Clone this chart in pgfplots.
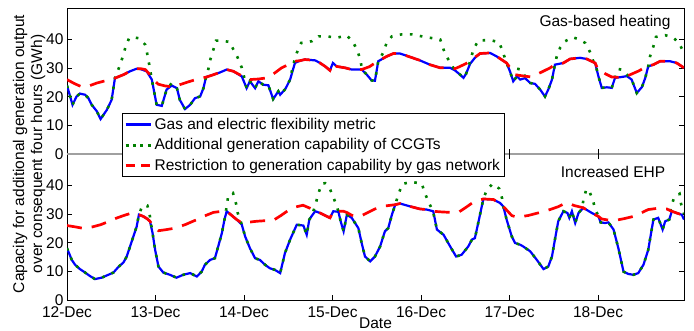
\documentclass[border=0pt]{standalone}
\usepackage{pgfplots}
\pgfplotsset{compat=1.18}
\usepackage{pgfplotstable}
\usepackage{fontspec}
\setmainfont{Liberation Sans}
\definecolor{mblue}{RGB}{0,0,255}
\definecolor{mgreen}{RGB}{0,128,0}
\definecolor{mred}{RGB}{255,0,0}
\definecolor{mgray}{RGB}{160,160,160}

% ---------- Top panel: gas-based heating (hours from 12-Dec 00:00, GWh) ----------
\pgfplotstableread{
h v
0 23.9
1.5 17.2
2.6 20.1
3.5 21.1
4.9 20.7
5.8 19.5
6.7 17.2
8.1 14.9
9.1 12.2
10.8 15.4
12.1 18.9
13.0 26.5
15.3 27.7
17.1 28.9
18.9 29.8
19.8 29.7
21.6 28.9
23.0 26
24.3 17.2
25.7 16.8
27.0 22.5
28.4 23.9
29.8 23
30.6 18.9
32.0 15.7
33.4 17.2
34.7 19.5
36.1 20.1
37.0 23
37.7 26.9
39.7 27.7
41.5 28.5
43.3 29.5
45.1 28.9
47.4 27.1
48.7 23
49.6 25.4
51.0 23
51.9 25.4
53.2 24.2
54.6 24
55.9 19.2
57.3 21.9
57.8 20.7
59.2 22.7
60.5 26
61.8 31.8
63.2 32.6
64.5 33
67.3 32.7
68.6 31.8
70.0 30.6
71.3 29.2
72.1 31.8
73.1 30.6
75.4 30.1
77.2 29.5
79.9 29.5
81.3 27.7
82.6 25.7
83.5 25.6
84.4 32.4
86.7 34.1
88.5 35.1
90.3 35.1
93.0 33.9
95.7 32.7
98.4 31.2
101.2 30.1
103.9 30.1
105.2 29.2
106.6 27.7
107.5 26.6
108.2 28
109.3 31.5
110.6 33.6
112.0 35.1
114.7 35.3
116.5 34.1
119.2 31.8
120.1 28.9
121.0 25.4
122.0 27.1
122.9 26
124.2 26.5
125.6 24.8
126.9 24.5
128.3 22.5
129.6 20.1
130.5 22.5
131.5 26
132.3 31.2
134.6 31.8
136.4 33.2
139.1 33.6
140.9 33.2
143.2 31.8
144.1 27.1
145.0 23.1
146.4 23.3
147.7 23.1
148.6 26.6
150.4 26.9
151.8 27.2
153.1 26
154.5 21.3
155.9 23.4
156.8 26.6
157.6 30.6
159.0 31.2
160.8 32.4
163.5 32.4
165.3 31.8
167.3 30.1
}\topblue

\pgfplotstableread{
h v
0 23.9
1.5 17.2
2.6 20.1
3.5 21.1
4.9 20.7
5.8 19.5
6.7 17.2
8.1 14.9
9.1 12.2
10.8 15.4
12.1 18.9
13.0 26.5
13.5 28.1
14.4 31.2
15.3 34.7
16.0 38
16.9 40.6
18.2 40.7
19.6 40.4
21.2 38.2
21.8 34.7
22.3 31.2
23.0 26
24.3 17.2
25.7 16.8
27.0 22.5
28.4 24.8
29.8 23
30.6 18.9
32.0 15.7
33.4 17.2
34.7 19.5
36.1 20.1
37.0 23
37.7 26.9
38.3 29.5
38.8 32.7
39.7 36.5
40.4 39.6
42.0 39.6
44.2 39.1
45.1 36.5
46.3 33.6
47.4 30.1
48.0 27
48.7 23
49.6 25.4
51.0 23
51.9 25.4
53.2 24.2
54.6 24
55.9 19.2
57.3 21.9
57.8 20.7
59.2 22.7
60.5 26
61.3 31
62.3 35.3
63.5 38.8
66.4 39.4
68.2 41.1
70.5 41.1
73.1 40.6
75.9 41.4
77.6 39
78.6 36.5
79.5 33.2
80.0 29.5
81.3 27.7
82.6 25.7
83.5 25.6
84.4 32.4
85.8 35.5
86.7 39
88.1 41.1
90.8 41.8
93.5 41.8
96.2 41.1
98.4 40.6
101.2 40
102.1 36.5
103.0 33.9
104.3 31
105.2 29.2
106.6 27.7
107.5 26.6
108.2 28
109.3 32.4
110.2 36.5
111.5 39.6
113.9 39.8
115.4 39.6
117.2 39
118.1 35.9
119.2 31.8
120.1 28.9
121.0 25.4
122.0 27.1
122.4 29.7
123.2 29.5
124.2 27.1
125.6 24.8
126.9 24.5
128.3 22.5
129.6 20.1
130.5 22.5
131.5 26
132.3 31.2
132.8 34.1
133.7 37.1
135.1 39.4
137.1 40.8
138.9 40
140.5 38.8
141.8 35.7
142.7 32.4
143.2 31.8
144.1 27.1
145.0 23.1
146.4 23.3
147.7 23.1
148.6 26.6
149.5 29.7
150.9 29.3
152.0 27.5
153.1 26
154.5 21.3
155.9 23.4
156.8 26.6
157.6 30.6
158.1 34.1
159.0 37.6
159.7 40.9
162.2 41.5
164.4 40.6
165.8 39
167.1 35.9
167.3 35
}\topgreen

\pgfplotstableread{
h v
0 26
2 24.6
4.1 23.4
6 23.8
8.1 24.8
10.5 25.6
13 26.5
15.3 27.7
17.1 28.9
18.9 29.8
20 29.8
21.2 29.5
22.1 28.3
23 26.5
24.7 24.4
26.5 23.8
28.8 23.4
31 24.4
33.4 25.4
35.5 26.2
37.9 26.9
39.7 27.7
41.5 28.5
43.3 29.5
45.1 28.9
47.4 27.3
49.6 26
52 26.2
54.2 26.6
56 28
58.2 30.1
60 31.2
61.8 32.4
63.2 32.6
64.5 33
67.3 32.7
68.6 31.8
70 30.6
71.3 29.2
72.1 31.8
73.1 30.6
75.4 30.1
77.2 29.5
79.9 29.5
82 30.5
84 32.2
86.7 34.1
88.5 35.1
90.3 35.1
93 33.9
95.7 32.7
98.4 31.2
101.2 30.1
103.9 30.1
105.2 29.8
106.6 30.6
108.2 31.6
110.2 33.4
112 35.1
114.7 35.3
116.5 34.1
119.2 31.8
120.5 29.5
121.5 27.7
124 27.2
126 26.9
128.5 28.5
131 30.1
132.3 31.2
134.6 31.8
136.4 33.2
139.1 33.6
140.9 33.2
143.2 31.8
144 29.5
146 28
147.7 26.9
149.5 26.8
150.4 26.9
151.8 27.2
152.7 27.7
155 29
157.2 30.6
159 31.2
160.8 32.4
163.5 32.4
165.3 31.8
167.3 30.1
}\topred

% ---------- Bottom panel: increased EHP ----------
\pgfplotstableread{
h v
0 18.1
1.3 14
2.2 12.3
3.5 10.8
4.9 9.6
6.2 8.4
7.6 7.3
9.4 7.8
11.2 8.8
12.6 9.6
13.9 11.5
15.3 13.1
16.2 15.2
17.1 18.7
18 22.2
18.9 25.7
19.5 29.8
20.7 29.2
21.8 28.3
22.5 27.5
23.2 23.4
23.9 17.5
24.8 11.7
26.1 9.6
27.9 8.8
29.7 7.8
31.5 8.8
33.4 9.4
35.2 8.2
36.5 9.9
37.4 12.3
38.8 14
40.1 14.6
41 18.7
42 23.4
42.7 28.1
43.3 31
44.7 29.5
46 28.1
47.4 26.3
48.3 22.2
49.6 18.1
51 14.6
52.3 14
53.7 12.3
55 11.1
56.4 10.5
57.8 9.4
59.1 16.4
60.5 21.1
62.3 26.3
64.1 26
65 22.8
65.7 28.1
66.6 29.8
67.3 31
68.6 30.4
71.3 28.7
72.2 31
73.6 30.8
74.2 27.5
75 24
75.9 29.8
77.2 28.7
79 25.1
79.9 19.9
80.8 15.2
82.2 13.5
83.5 15.2
84.9 18.7
86.2 24
87.1 25.1
88.1 29.8
89 33.3
90.3 33.7
93 32.7
95.7 31.8
97.5 31.6
99.3 31
100.3 24.6
102.1 22.8
103.9 18.7
105.5 15.2
107 15.8
108.8 18.7
109.8 21.1
110.6 21.6
111.5 26.9
112.9 35.3
115.6 35.1
117.4 33.9
118.3 32.7
119.2 28.1
120.6 22.2
121.5 19.9
122.9 19.3
123.7 18.7
125.6 17
127.4 14
129.2 10.8
130.5 11.7
131.5 15.2
132.3 21.1
133.2 27.5
134.6 31
135.7 30.4
136.2 28.7
136.9 31
137.8 26.9
138.7 30.4
140 32.2
142.3 30.4
144.1 29.2
144.7 27.1
145.9 26.9
146.8 27.1
148.2 24.6
149.5 18.1
150.9 9.9
152.2 9.1
153.6 8.8
154.9 9.4
156.3 12.3
157.6 17.5
159 28.1
160.3 28.7
161.5 24.6
162.2 27.5
163.3 28.1
164 31
165.3 30.4
166.7 29.8
167.3 28.1
}\botblue

\pgfplotstableread{
h v
0 18.1
1.3 14
2.2 12.3
3.5 10.8
4.9 9.6
6.2 8.4
7.6 7.3
9.4 7.8
11.2 8.8
12.6 9.6
13.9 11.5
15.3 13.1
16.2 15.2
17.1 18.7
18 22.2
18.9 25.7
19.5 29.8
20.3 32.5
21.2 33.2
21.8 33
22.4 29.8
23.2 23.4
23.9 17.5
24.8 11.7
26.1 9.6
27.9 8.8
29.7 7.8
31.5 8.8
33.4 9.4
35.2 8.2
36.5 9.9
37.4 12.3
38.8 14
40.1 14.6
41 18.7
42 23.4
42.7 28.1
43.3 32.7
43.7 36.3
44.3 37.1
45 37.4
45.8 33.9
46.3 30.4
47.4 26.3
48.3 22.2
49.6 18.1
51 14.6
52.3 14
53.7 12.3
55 11.1
56.4 10.5
57.8 9.4
59.1 16.4
60.5 21.1
62.3 26.3
64.1 26
65 22.8
65.7 28.1
66.6 29.8
66.8 31
67.5 33.9
68.2 37.4
69.1 40.6
70 40.8
71.1 39.4
72.1 36.3
73.1 33
73.6 30.8
74.2 27.5
75 24
75.9 29.8
77.2 28.7
79 25.1
79.9 19.9
80.8 15.2
82.2 13.5
83.5 15.2
84.9 18.7
86.2 24
87.1 25.1
88.1 29.8
89 33.3
89.9 37.1
91 40.6
93.5 41.2
96.2 40.7
96.9 37.8
98 34.3
99.2 31.2
100.3 24.6
102.1 22.8
103.9 18.7
105.5 15.2
107 15.8
108.8 18.7
109.8 21.1
110.6 21.6
111.5 26.9
112.9 35.3
113.8 38.4
115.4 40.6
117.2 38.9
118 35.4
118.3 32.7
119.2 28.1
120.6 22.2
121.5 19.9
122.9 19.3
123.7 18.7
125.6 17
127.4 14
129.2 10.8
130.5 11.7
131.5 15.2
132.3 21.1
133.2 27.5
134.6 31
135.7 30.4
136.2 28.7
136.9 31
137.8 26.9
138.7 30.4
139.7 32
140 34.9
140.8 38.6
141.4 38.6
142.5 35.3
143.2 31.9
144.1 29.2
144.7 27.1
145.9 26.9
146.8 27.1
148.2 24.6
149.5 18.1
150.9 9.9
152.2 9.1
153.6 8.8
154.9 9.4
156.3 12.3
157.6 17.5
159 28.1
160.3 28.7
161.5 24.6
162.2 27.5
163.3 28.1
163.8 32.7
164.7 36
166.1 37.1
166.5 33.6
167.3 30
}\botgreen

\pgfplotstableread{
h v
0 26
2 25.6
4.5 25
6.8 25.5
9.1 26.3
11.3 27.4
13.6 28.7
15.6 29.6
17.6 30.4
19.5 29.8
20.7 29.2
21.8 28.3
22.5 27.5
23.5 25.5
24.8 24.2
27 24.6
29.3 25.1
32 26.3
34.7 27.8
37.2 29.3
39.7 30.6
41.5 30.9
43.3 31
44.7 29.5
46 28.1
47.4 26.9
49.4 27.2
51.4 27.5
53.7 27.7
55.9 27.8
58 29.5
60 31.3
62 32.5
64 33.1
66 32
67.3 31
68.6 30.4
71.3 28.7
72.2 31
73.6 31
75 31
76 30.5
77.2 29.6
79.5 29.2
81.5 30.5
83.5 31.8
86 32.8
89 33.3
90.3 33.7
93 32.7
95.7 31.8
97.5 31.6
99.3 31
101.2 30.8
104 30.6
106.1 30.6
108 32.2
110.2 34.2
112.9 35.3
115.6 35.1
117.4 33.9
118.3 32.7
119.5 31
120.6 29.5
122 28.9
125 29.5
128 30.5
131 31.6
133.2 32.6
134.6 33.5
136 33.9
137.5 33
139.1 32.5
140 32.2
142.3 30.4
144.1 29.2
145 28.3
146.4 28
148.6 27.8
151 28.4
153.6 29.2
155.5 30.3
157.6 31.6
160 32
162.6 31.8
164 31
165.3 30.4
166.7 29.8
167.3 29.5
}\botred

\begin{document}
\begin{tikzpicture}[font=\fontsize{15.5bp}{18bp}\selectfont]
\useasboundingbox (-67bp,-31bp) rectangle (627bp,300bp);
\begin{axis}[
  name=ax,
  at={(0,0)}, anchor=south west,
  scale only axis,
  width=617bp, height=292bp,
  xmin=0, xmax=167.3,
  ymin=0, ymax=102,
  xtick={0,24,48,72,96,120,144},
  xticklabels={12-Dec,13-Dec,14-Dec,15-Dec,16-Dec,17-Dec,18-Dec},
  ytick={0,10,20,30,40,51,61,71,81,91},
  yticklabels={0,10,20,30,40,0,10,20,30,40},
  xtick pos=bottom,
  tick align=inside,
  major tick length=5bp,
  axis line style={line width=0.7bp},
  every tick/.style={black, line width=0.7bp},
  tick label style={font=\fontsize{15.5bp}{18bp}\selectfont},
  xticklabel style={yshift=-3bp},
  legend style={
    at={(rel axis cs:0.0887,0.6395)}, anchor=north west,
    draw=black, line width=0.7bp, fill=white,
    inner xsep=2bp, inner ysep=2bp, row sep=2.8bp,
    font=\fontsize{15.5bp}{18bp}\selectfont,
    nodes={inner sep=2.5bp}
  },
  legend cell align=left,
  legend image code/.code={\draw[#1] (0bp,0bp) -- (25bp,0bp);},
]
\draw[mgray, line width=1.3bp] (axis cs:0,51) -- (axis cs:167.3,51);
\pgfplotsinvokeforeach{24,48,72,96,120,144}{
  \draw[black, line width=0.7bp] (axis cs:#1,49.25) -- (axis cs:#1,52.75);
}

% top panel (offset by 51)
\addplot[forget plot, mblue, line width=2.2bp] table[x=h, y expr=\thisrow{v}+51] {\topblue};
\addplot[forget plot, mgreen, line width=2.6bp, dash pattern=on 2.6bp off 7.5bp] table[x=h, y expr=\thisrow{v}+51] {\topgreen};
\addplot[forget plot, mred, line width=2.7bp, dash pattern=on 15bp off 10bp] table[x=h, y expr=\thisrow{v}+51] {\topred};

% bottom panel
\addplot[forget plot, mblue, line width=2.2bp] table[x=h, y=v] {\botblue};
\addplot[forget plot, mgreen, line width=2.6bp, dash pattern=on 2.6bp off 7.5bp] table[x=h, y=v] {\botgreen};
\addplot[forget plot, mred, line width=2.7bp, dash pattern=on 15bp off 10bp] table[x=h, y=v] {\botred};

\addlegendimage{mblue, line width=2.2bp}
\addlegendentry{Gas and electric flexibility metric}
\addlegendimage{mgreen, line width=3bp, dash pattern=on 3bp off 4.4bp}
\addlegendentry{Additional generation capability of CCGTs}
\addlegendimage{mred, line width=2.7bp, dash pattern=on 9.3bp off 6.3bp}
\addlegendentry{Restriction to generation capability by gas network}

\node at (rel axis cs:0.872,0.952) {Gas-based heating};
\node at (rel axis cs:0.885,0.438) {Increased EHP};
\end{axis}
\node[rotate=90, align=center] at ([xshift=-38bp]ax.west) {Capacity for additional generation output\\over consequent four hours (GWh)};
\node[inner sep=0.5bp] at ([yshift=-23.2bp]ax.south) {Date};
\end{tikzpicture}
\end{document}
